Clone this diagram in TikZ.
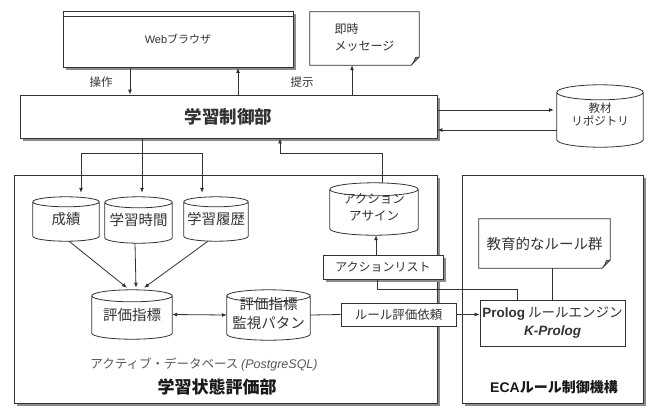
\documentclass[tikz,border=0pt]{standalone}
\usepackage{fontspec}
\setmainfont{Noto Sans CJK JP}
\newfontfamily\lat{Liberation Sans}
\usetikzlibrary{shadows,arrows.meta,calc}
\pgfdeclarelayer{bg}\pgfdeclarelayer{mid}\pgfsetlayers{bg,mid,main}
\newcommand\twol[4]{\raisebox{#1}{\begin{tabular}{@{}#2@{}}#3\\#4\end{tabular}}}
\begin{document}
\begin{tikzpicture}[x=1pt,y=-1pt,
 ln/.style={draw=black!80,line width=0.8pt},
 arr/.style={ln,-{Latex[length=5pt,width=4pt]}},
 arr2/.style={ln,{Latex[length=5pt,width=4pt]}-{Latex[length=5pt,width=4pt]}},
 sz/.style 2 args={minimum width=#1pt,minimum height=#2pt},
 fs/.style 2 args={font=\fontsize{#1}{#2}\selectfont},
 box/.style={rectangle,inner sep=0pt,ln,fill=white,text=black!80},
 shd/.style={drop shadow={shadow xshift=2.5pt,shadow yshift=-2.5pt,fill=black!45,opacity=1}},
 txt/.style={inner sep=0pt,text=black!80},
 cyl/.style={rectangle,inner sep=0pt,text=black!80},
]
\useasboundingbox (0,0) rectangle (652,408);

% containers
\begin{pgfonlayer}{bg}
\fill[white] (0,0) rectangle (652,408);
\node[box,sz={423}{228},shd] (evalbox) at (225.5,289) {};
\node[box,sz={181}{228},shd] (ecabox) at (552.5,289) {};
\end{pgfonlayer}

% top row
\node[box,sz={230}{56},shd,fs={11}{13}] (browser) at (178,39.5) {\raisebox{-3pt}{{\lat Web}ブラウザ}};
\draw[ln] ([yshift=-5pt]browser.north west) -- ([yshift=-5pt]browser.north east);
\node[txt,sz={109}{53},fs={12}{17}] (msg) at (364.5,38.5) {\twol{-5pt}{l}{即時}{メッセージ}};
\node[box,sz={417}{43},shd,fs={17.5}{20}] (ctrl) at (228.5,116.5) {\bfseries\raisebox{-1pt}{学習制御部}};
\node[cyl,sz={86}{62},fs={11.5}{13}] (repo) at (600,116) {\twol{-6pt}{c}{教材}{リポジトリ}};

\node[txt,fs={11.5}{13}] (op) at (101,82) {操作};
\node[txt,fs={11.5}{13}] (pr) at (302,82) {提示};

% evaluation part
\node[cyl,sz={66}{44},fs={14.5}{17}] (seiseki) at (66,219) {\raisebox{-3.5pt}{成績}};
\node[cyl,sz={67}{46},fs={14.5}{17}] (jikan) at (138.5,220) {\raisebox{-2.5pt}{学習時間}};
\node[cyl,sz={64}{44},fs={14.5}{17}] (rireki) at (216,219) {\raisebox{-3.5pt}{学習履歴}};
\node[cyl,sz={88}{52},fs={12.5}{17}] (action) at (374,209) {\twol{-3.5pt}{c}{アクション}{アサイン}};
\node[box,sz={120}{24},shd,fs={12}{14}] (alist) at (383,267) {アクションリスト};
\node[cyl,sz={80}{49},fs={14.5}{17}] (hyoka) at (132,314.5) {\raisebox{-4.5pt}{評価指標}};
\node[cyl,sz={83}{50},fs={14.5}{19}] (kanshi) at (268.5,315) {\twol{-1pt}{c}{評価指標}{監視パタン}};
\node[box,sz={115}{23},fs={12.5}{14}] (irai) at (398.5,314.5) {ルール評価依頼};
\node[txt,fs={12.5}{14},text=black!65] (adb) at (204,364) {アクティブ・データベース {\lat\itshape (PostgreSQL)}};
\node[txt,fs={17}{20},text=black!90] (evaltitle) at (217,387) {\bfseries 学習状態評価部};

% ECA part
\node[txt,sz={131}{49},fs={14.5}{17}] (rules) at (544.5,243.5) {教育的なルール群};
\node[box,sz={145}{46},fs={13.5}{18}] (prolog) at (552.5,323) {\twol{0pt}{c}{{\lat\bfseries Prolog} ルールエンジン}{{\lat\bfseries\itshape K-Prolog}}};
\node[txt,fs={14}{16},text=black!90] (ecatitle) at (554,387) {\bfseries{\lat ECA}ルール制御機構};

% cylinders and notes
\begin{pgfonlayer}{mid}
\foreach \nm/\r in {repo/7.5,seiseki/5,jikan/5.5,rireki/5,action/6.5,hyoka/6,kanshi/6}{
  \draw[ln,fill=white] let \p1=(\nm.north west), \p2=(\nm.south east), \n1={(\x2-\x1)/2} in
   (\x1,\y1-\r pt) -- (\x1,\y2+\r pt) arc[start angle=180,end angle=360,x radius=\n1,y radius=\r pt]
   -- (\x2,\y1-\r pt) arc[start angle=0,end angle=180,x radius=\n1,y radius=\r pt]
   arc[start angle=180,end angle=360,x radius=\n1,y radius=\r pt];
}
\foreach \nm in {msg,rules}{
  \fill[black!45,xshift=2.5pt,yshift=-2.5pt] let \p1=(\nm.north west), \p2=(\nm.south east) in
   (\x1,\y1) -- (\x2,\y1) -- (\x2,\y2+8pt) -- (\x2-8pt,\y2) -- (\x1,\y2) -- cycle;
  \draw[ln,fill=white] let \p1=(\nm.north west), \p2=(\nm.south east) in
   (\x1,\y1) -- (\x2,\y1) -- (\x2,\y2+8pt) -- (\x2-8pt,\y2) -- (\x1,\y2) -- cycle
   (\x2,\y2+8pt) .. controls (\x2-4pt,\y2+8pt) .. (\x2-5pt,\y2+4pt) -- (\x2-8pt,\y2);
}
\end{pgfonlayer}

% connectors: top
\draw[arr] ([xshift=-48pt]browser.south) -- ([xshift=-48pt]browser.south |- ctrl.north);
\draw[arr] ([xshift=60pt]browser.south |- ctrl.north) -- ([xshift=60pt]browser.south);
\draw[arr] ([xshift=-12.5pt]msg.south |- ctrl.north) -- ([xshift=-12.5pt]msg.south);
\draw[arr,shorten >=3pt] ([yshift=6.5pt]ctrl.east) -- ([yshift=6.5pt]ctrl.east -| repo.west);
\draw[arr] ([yshift=-13.5pt]ctrl.east -| repo.west) -- ([yshift=-13.5pt]ctrl.east);

% control to data cylinders
\coordinate (b1) at (81,153);
\coordinate (b3) at (202,153);
\draw[arr] ([xshift=3.5pt]jikan.north |- ctrl.south) -- ([xshift=3.5pt,yshift=4pt]jikan.north);
\draw[ln] (b1) -- (b3);
\draw[arr] (b1) -- ([yshift=4pt]b1 |- seiseki.north);
\draw[arr] (b3) -- ([yshift=4pt]b3 |- rireki.north);

% action to control
\coordinate (a1) at (280,153);
\draw[arr] ([xshift=8pt]action.north) |- (a1) -- (a1 |- ctrl.south);
\draw[arr] ([xshift=-7pt]alist.north) -- ([xshift=-7pt]alist.north |- action.south);

% prolog to action list
\coordinate (p1) at (377,289);
\draw[ln] ([xshift=-35.5pt]prolog.north) |- (p1) -- (p1 |- alist.south);
\draw[ln] (rules.south -| prolog.north) -- (prolog.north);

% data to evaluation index
\draw[arr] ([xshift=3pt]seiseki.south) -- ([xshift=-5pt,yshift=2pt]hyoka.north);
\draw[arr] ([xshift=-3.5pt]jikan.south) -- ([xshift=4pt,yshift=2pt]hyoka.north);
\draw[arr] ([xshift=-8pt]rireki.south) -- ([xshift=12pt,yshift=2pt]hyoka.north);

\draw[arr2] (hyoka.east) -- (kanshi.west);
\draw[ln] (kanshi.east) -- (irai.west);
\draw[arr] (irai.east) -- (irai.east -| prolog.west);
\end{tikzpicture}
\end{document}
